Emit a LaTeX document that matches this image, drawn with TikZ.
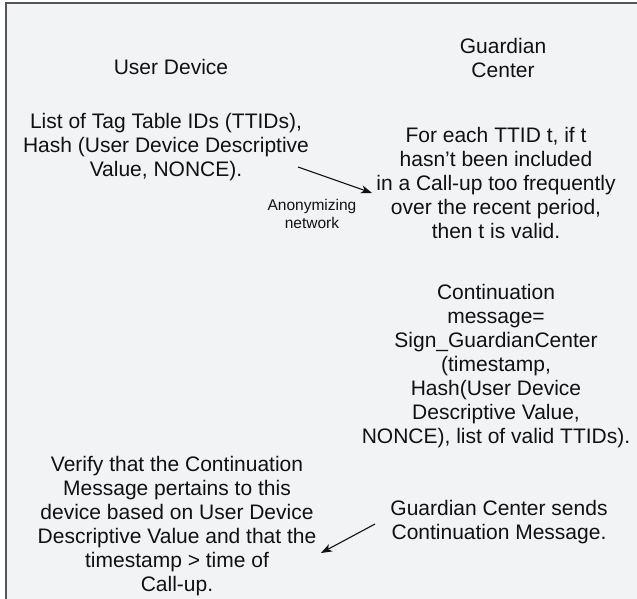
\documentclass[tikz,border=0pt]{standalone}
\usepackage{fontspec}
\setmainfont{Liberation Sans}
\usetikzlibrary{arrows.meta}
\definecolor{panel}{HTML}{F2F3F5}
\definecolor{framegray}{HTML}{555555}
\definecolor{ink}{HTML}{111111}

\begin{document}
\begin{tikzpicture}[x=1pt,y=-1pt,>={Stealth[length=11pt,width=8pt,inset=3pt]},
    txt/.style={align=center,inner sep=0pt,text=ink,font=\fontsize{21}{24}\selectfont},
    smalltxt/.style={align=center,inner sep=0pt,text=ink,font=\fontsize{15.5}{18}\selectfont}]
            \useasboundingbox (0,0) rectangle (637,599);
            % Draw panel and frame
            \fill[panel] (5,3) rectangle (637,599);
            \draw[framegray, line width=2pt] (5.5,599) -- (5.5,3.5) -- (637,3.5);
            % headings
            \node[txt] (userdev) at (171,67) {User Device};
            \node[txt] (guardian) at (503,58) {Guardian\\Center};
            % call-up
            \node[txt] (tagids) at (166,147) {List of Tag Table IDs (TTIDs),\\Hash (User Device Descriptive\\Value, NONCE).};
            \node[txt] (ttidcheck) at (496,183) {For each TTID t, if t\\hasn’t been included\\in a Call-up too frequently\\over the recent period,\\then t is valid.};
            \node[smalltxt] (anonnet) at (312,214) {Anonymizing\\network};
            \coordinate (sendstart) at (298,167);
            \coordinate (sendend) at (372,193);
            \draw[->, ink, line width=1.1pt] (sendstart) -- (sendend);
            % continuation message
            \node[txt] (contmsg) at (496,366) {Continuation\\message=\\Sign\_GuardianCenter\\(timestamp,\\Hash(User Device\\Descriptive Value,\\NONCE), list of valid TTIDs).};
            \node[txt] (gcsends) at (499,522) {Guardian Center sends\\Continuation Message.};
            \node[txt] (verify) at (177,526) {Verify that the Continuation\\Message pertains to this\\device based on User Device\\Descriptive Value and that the\\timestamp > time of\\Call-up.};
            \coordinate (replystart) at (375,524);
            \coordinate (replyend) at (321,553);
            \draw[->, ink, line width=1.1pt] (replystart) -- (replyend);
\end{tikzpicture}
\end{document}
